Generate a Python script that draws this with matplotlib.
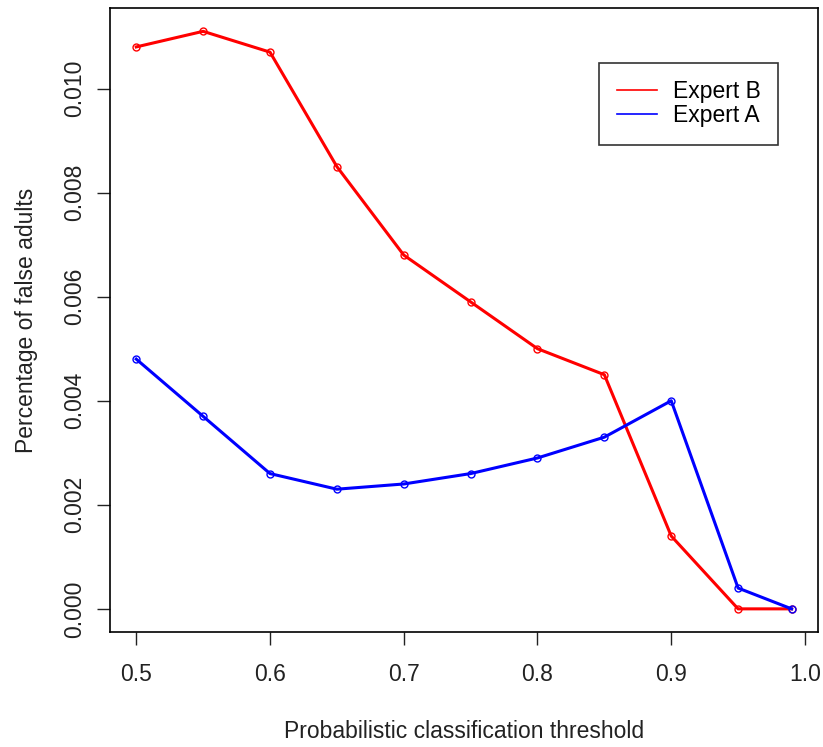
import matplotlib.pyplot as plt

# thresholds and false-adult rates
thresholds = [0.5, 0.55, 0.6, 0.65, 0.7, 0.75, 0.8, 0.85, 0.9, 0.95, 0.99]
expert_b = [0.0108, 0.0111, 0.0107, 0.0085, 0.0068, 0.0059, 0.0050, 0.0045, 0.0014, 0.0, 0.0]
expert_a = [0.0048, 0.0037, 0.0026, 0.0023, 0.0024, 0.0026, 0.0029, 0.0033, 0.0040, 0.0004, 0.0]

x_ticks = [0.5, 0.6, 0.7, 0.8, 0.9, 1.0]
y_ticks = [0.000, 0.002, 0.004, 0.006, 0.008, 0.010]

plt.rcParams["font.family"] = ["Liberation Sans", "DejaVu Sans"]

fig = plt.figure(figsize=(8.23, 7.47), dpi=100)
ax = fig.add_axes([0.1337, 0.154, 0.860, 0.835])

ax.plot(thresholds, expert_b, color="red", linewidth=2.2, marker="o", markersize=5,
        markerfacecolor="none", markeredgewidth=1, label="Expert B")
ax.plot(thresholds, expert_a, color="blue", linewidth=2.2, marker="o", markersize=5,
        markerfacecolor="none", markeredgewidth=1, label="Expert A")

# R-style 4% padding
xr = max(thresholds) - min(thresholds)
ax.set_xlim(min(thresholds) - 0.04 * xr, max(thresholds) + 0.04 * xr)
yr = max(expert_b) - 0.0
ax.set_ylim(-0.04 * yr, max(expert_b) + 0.04 * yr)

ax.set_xticks(x_ticks)
ax.set_xticklabels(["0.5", "0.6", "0.7", "0.8", "0.9", "1.0"])
ax.set_yticks(y_ticks)
ax.set_yticklabels(["%.3f" % v for v in y_ticks], rotation=90, va="center")
ax.tick_params(direction="out", length=9.5, width=1, labelsize=16.5, colors="#222222")
ax.tick_params(axis="x", pad=13)
ax.tick_params(axis="y", pad=8)
for s in ax.spines.values():
    s.set_linewidth(1.2)

ax.set_xlabel("Probabilistic classification threshold", fontsize=16.5, labelpad=24, color="#222222")
ax.set_ylabel("Percentage of false adults", fontsize=16.5, labelpad=18, color="#222222")

leg = ax.legend(loc="upper right", bbox_to_anchor=(0.9435, 0.912), fontsize=16.5, frameon=True,
                fancybox=False, edgecolor="black", handlelength=1.75, borderpad=0.75,
                labelspacing=0.05, handletextpad=0.7, borderaxespad=0)
leg.get_frame().set_linewidth(1.2)
for line in leg.get_lines():
    line.set_linewidth(1.2)
    line.set_marker("")

fig.savefig("out.png", dpi=100)
